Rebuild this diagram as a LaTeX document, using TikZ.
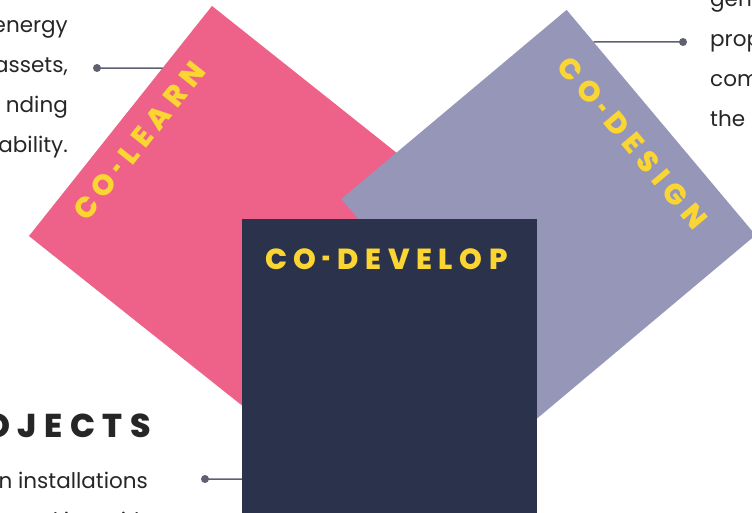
\documentclass[tikz,border=0pt]{standalone}
\usepackage{fontspec}
\setmainfont{Poppins}
\newfontfamily\bodyfont{Poppins}
\newfontfamily\headfont{Poppins}[UprightFont=* ExtraBold, LetterSpace=23]
\usetikzlibrary{calc}
\definecolor{learnpink}{HTML}{EE6188}
\definecolor{designlav}{HTML}{9696B9}
\definecolor{developnavy}{HTML}{2B324B}
\definecolor{coyellow}{HTML}{FBD632}
\definecolor{pointergray}{HTML}{5F6070}
\definecolor{inktext}{HTML}{262626}
\newcommand\cohyph{\kern.2em\resizebox{0.5\width}{\height}{-}\kern.23em}
\begin{document}
\begin{tikzpicture}[x=1pt, y=-1pt,
    card/.style={rectangle, minimum size=294pt, inner sep=0pt, outer sep=0pt},
    cardtitle/.style={text=coyellow, inner sep=0pt, font=\headfont\fontsize{29}{29}\selectfont},
    bodytext/.style={text=inktext, inner sep=0pt, font=\bodyfont\fontsize{21.5}{26}\selectfont},
    headtext/.style={text=inktext, inner sep=0pt, font=\headfont\fontsize{33}{33}\selectfont},
    pin/.style={circle, fill=pointergray, inner sep=0pt, minimum size=8pt},
    pointer/.style={draw=pointergray, line width=1.5pt}]
  \useasboundingbox (0,0) rectangle (752,513);

  % the three cards
  \node[card, fill=learnpink, rotate=-38.5] (learn) at (235.5,212.5) {};
  \node[card, fill=designlav, rotate=40] (design) at (548.5,217) {};
  \node[card, fill=developnavy, minimum size=295pt] (develop) at (389.5,366.5) {};

  \node[cardtitle, rotate=51.5] (learntitle) at (139,141) {CO\cohyph LEARN};
  \node[cardtitle, rotate=-50] (designtitle) at (632.5,142.5) {CO\cohyph DESIGN};
  \node[cardtitle, anchor=base west] (developtitle) at (265,269) {CO\cohyph DEVELOP};

  % side texts
  \foreach \t [count=\i] in {energy, {assets,}, nding, ability.}
  {
    \path (68, 40*\i-7) node[bodytext, anchor=base east] (left\i) {\t};
  }
  \foreach \t [count=\i] in {gen, prop, com, the}
  {
    \path (710, 40*\i-33) node[bodytext, anchor=base west] (right\i) {\t};
  }
  \node[headtext, anchor=base east] (projects) at (151,437) {OJECTS};
  \node[bodytext, anchor=base east] (proj1) at (148,488) {n installations};
  \node[bodytext, anchor=base east] (proj2) at (148,528) {nt working with};

  % pointers
  \coordinate (learnedge) at ($(learn.south west)!0.73!(learn.north west)$);
  \coordinate (designedge) at ($(design.north east)!0.1425!(design.south east)$);
  \node[pin] (learnpin) at (97,68) {};
  \node[pin] (designpin) at (683,42) {};
  \node[pin] (projpin) at (205,479) {};
  \draw[pointer]
    (learnpin.center) -- (learnedge)
    (designedge) -- (designpin.center)
    (projpin.center) -- (projpin.center -| develop.west);
\end{tikzpicture}
\end{document}
